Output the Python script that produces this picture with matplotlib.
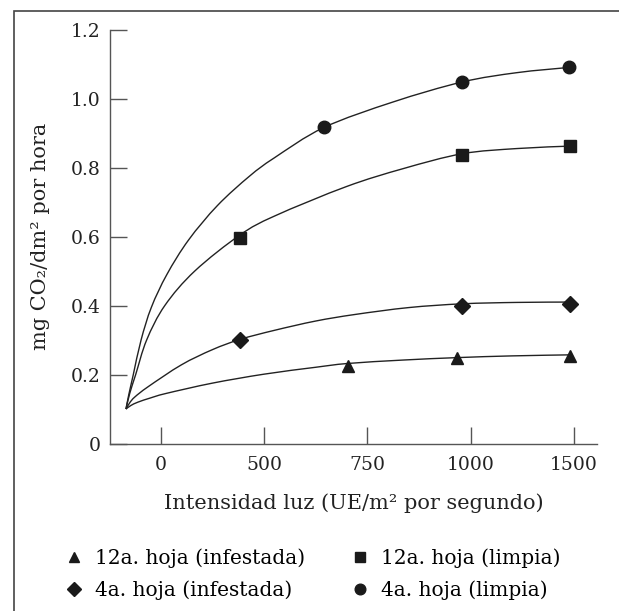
import numpy as np
import matplotlib.pyplot as plt
from matplotlib.patches import Rectangle, PathPatch
from matplotlib.path import Path

plt.rcParams['font.family'] = ['DejaVu Serif']

# x axis ticks are evenly spaced, labels are not
tick_pos = [0, 1, 2, 3, 4]
tick_labels = ['0', '500', '750', '1000', '1500']
y_ticks = [0, 0.2, 0.4, 0.6, 0.8, 1.0, 1.2]
y_labels = ['0', '0.2', '0.4', '0.6', '0.8', '1.0', '1.2']

# measured points (x in tick units)
tri_x = [1.81, 2.87, 3.96]
tri_y = [0.225, 0.247, 0.254]
dia_x = [0.77, 2.92, 3.96]
dia_y = [0.30, 0.40, 0.403]
sq_x = [0.77, 2.92, 3.96]
sq_y = [0.595, 0.837, 0.861]
circ_x = [1.58, 2.92, 3.95]
circ_y = [0.916, 1.048, 1.09]

# fitted curves, knots
tri_cx = [-0.336, -0.29, -0.22, -0.10, 0.05, 0.50, 1.00, 1.50, 1.81, 2.35, 2.87, 3.40, 3.96]
tri_cy = [0.100, 0.110, 0.120, 0.132, 0.145, 0.175, 0.201, 0.221, 0.232, 0.242, 0.249, 0.254, 0.257]
dia_cx = [-0.336, -0.30, -0.25, -0.12, 0.20, 0.50, 0.77, 1.10, 1.50, 1.88, 2.40, 2.92, 3.45, 3.96]
dia_cy = [0.100, 0.118, 0.135, 0.165, 0.228, 0.272, 0.302, 0.328, 0.355, 0.374, 0.394, 0.405, 0.409, 0.410]
sq_cx = [-0.336, -0.30, -0.242, -0.136, 0.04, 0.33, 0.77, 1.107, 1.80, 2.35, 2.92, 3.45, 3.96]
sq_cy = [0.100, 0.145, 0.200, 0.300, 0.400, 0.500, 0.605, 0.660, 0.745, 0.797, 0.840, 0.855, 0.862]
circ_cx = [-0.336, -0.31, -0.265, -0.19, -0.09, 0.06, 0.27, 0.55, 0.86, 1.10, 1.58, 2.25, 2.92, 3.45, 3.95]
circ_cy = [0.100, 0.140, 0.200, 0.300, 0.395, 0.490, 0.590, 0.690, 0.775, 0.828, 0.916, 0.990, 1.048, 1.075, 1.090]


def smooth_path(xs, ys):
    # Catmull-Rom knots drawn as cubic bezier segments
    p = np.column_stack([xs, ys])
    ext = np.vstack([p[0], p, p[-1]])
    verts = [p[0]]
    codes = [Path.MOVETO]
    for i in range(1, len(ext) - 2):
        c1 = ext[i] + (ext[i + 1] - ext[i - 1]) / 6
        c2 = ext[i + 1] - (ext[i + 2] - ext[i]) / 6
        verts += [c1, c2, ext[i + 1]]
        codes += [Path.CURVE4] * 3
    return Path(verts, codes)


fig = plt.figure(figsize=(6.19, 6.11), dpi=100)
ax = fig.add_axes([0.1785, 0.2741, 0.786, 0.6776])

for cx, cy in [(tri_cx, tri_cy), (dia_cx, dia_cy), (sq_cx, sq_cy), (circ_cx, circ_cy)]:
    ax.add_patch(PathPatch(smooth_path(cx, cy), fill=False, edgecolor='#222222', lw=1.0))

mk = '#1a1a1a'
h_tri, = ax.plot(tri_x, tri_y, ls='none', marker='^', ms=8, color=mk, label='12a. hoja (infestada)')
h_dia, = ax.plot(dia_x, dia_y, ls='none', marker='D', ms=8, color=mk, label='4a. hoja (infestada)')
h_sq, = ax.plot(sq_x, sq_y, ls='none', marker='s', ms=8.5, color=mk, label='12a. hoja (limpia)')
h_circ, = ax.plot(circ_x, circ_y, ls='none', marker='o', ms=9, color=mk, label='4a. hoja (limpia)')

ax.set_xlim(-0.486, 4.224)
ax.set_ylim(0, 1.2)
ax.set_xticks(tick_pos)
ax.set_xticklabels(tick_labels)
ax.set_yticks(y_ticks)
ax.set_yticklabels(y_labels)
ax.tick_params(axis='both', direction='in', length=12, width=1.0, color='#555555',
               labelsize=13.5, labelcolor='#222222')
ax.tick_params(axis='x', pad=9)
ax.tick_params(axis='y', pad=7)
for s in ['top', 'right']:
    ax.spines[s].set_visible(False)
for s in ['left', 'bottom']:
    ax.spines[s].set_color('#555555')
    ax.spines[s].set_linewidth(1.0)

ax.set_xlabel('Intensidad luz (UE/m² por segundo)', fontsize=15, color='#222222', labelpad=14)
ax.set_ylabel('mg CO₂/dm² por hora', fontsize=15, color='#222222', labelpad=15)

leg_kw = dict(loc='upper left', frameon=False, fontsize=14.5, markerscale=0.85,
              handlelength=1.0, handletextpad=0.55, labelspacing=0.6,
              borderaxespad=0, borderpad=0)
leg1 = fig.legend(handles=[h_tri, h_dia], bbox_to_anchor=(64 / 619, 0.102), **leg_kw)
leg2 = fig.legend(handles=[h_sq, h_circ], bbox_to_anchor=(350 / 619, 0.102), **leg_kw)

# outer frame, open at right and bottom
fig.patches.append(Rectangle((14 / 619, -0.1), 1.2, (611 - 11) / 611 + 0.1,
                             transform=fig.transFigure, fill=False,
                             edgecolor='#444444', lw=1.2))

fig.savefig('out.png', dpi=100)
